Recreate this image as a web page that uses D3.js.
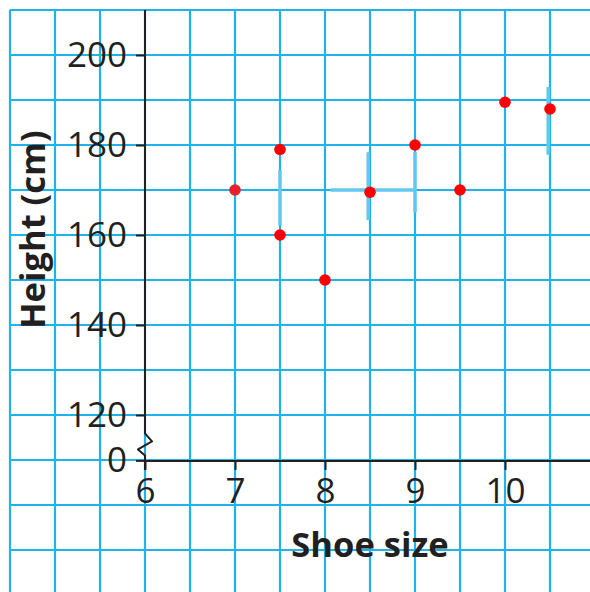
<!DOCTYPE html>
<html>
<head>
<meta charset="utf-8">
<script src="https://cdn.jsdelivr.net/npm/d3@7"></script>
<style>
  html, body { margin: 0; padding: 0; background: #ffffff; }
  svg { display: block; }
</style>
</head>
<body>
<svg id="chart" width="590" height="592"></svg>
<script>
// ---- data ----
const shoeSize = [7, 7.5, 7.5, 8, 8.5, 9, 9.5, 10, 10.5];
const heightCm = [170, 179, 160, 150, 169.5, 180, 170, 189.5, 188];
const xTickValues = [6, 7, 8, 9, 10];
const yTickValues = [120, 140, 160, 180, 200];
const xTitle = "Shoe size";
const yTitle = "Height (cm)";
// light-blue touch-up strokes seen on the scan (data units)
const touchX1 = [7.5, 8.06, 8.48, 9.0, 10.48];
const touchY1 = [174.4, 170, 178.4, 178.4, 192.9];
const touchX2 = [7.5, 9.0, 8.48, 9.0, 10.48];
const touchY2 = [162.2, 170, 163.3, 165, 177.8];

const W = 590, H = 592;
const svg = d3.select("#chart");

const x = d3.scaleLinear().domain([6, 10.5]).range([145, 550]);
const y = d3.scaleLinear().domain([120, 200]).range([415, 55]);
const yZero = y(109.8);          // position of the broken-axis "0"

const ink = "#231f20";
const gridColor = "#1fb3ec";

// ---- grid paper ----
const stepX = x(6.5) - x(6);
const stepY = y(120) - y(130);
const gx0 = x(6) - 3 * stepX;
const gy0 = y(200) - stepY;
const gridXs = d3.range(gx0, W + 1, stepX);
const gridYs = d3.range(gy0, H + 1, stepY);
const grid = svg.append("g");
grid.selectAll("line.v").data(gridXs).join("line")
  .attr("x1", d => d).attr("x2", d => d)
  .attr("y1", gy0).attr("y2", H)
  .attr("stroke", gridColor).attr("stroke-width", 2.2);
grid.selectAll("line.h").data(gridYs).join("line")
  .attr("x1", gx0).attr("x2", W)
  .attr("y1", d => d).attr("y2", d => d)
  .attr("stroke", gridColor).attr("stroke-width", 2.2);

// touch-up strokes
svg.append("g").selectAll("line").data(touchX1).join("line")
  .attr("x1", (d, i) => x(d)).attr("y1", (d, i) => y(touchY1[i]))
  .attr("x2", (d, i) => x(touchX2[i])).attr("y2", (d, i) => y(touchY2[i]))
  .attr("stroke", "#62c8f0").attr("stroke-width", 3.5);

// ---- axes ----
const fontTick = "'Open Sans', 'Noto Sans', sans-serif";
const tickSize = "35px";

// x axis
const xAxis = d3.axisBottom(x).tickValues(xTickValues).tickSize(9).tickPadding(8)
  .tickFormat(d3.format("d"));
const gx = svg.append("g").attr("transform", `translate(0,${yZero})`).call(xAxis);
gx.select(".domain").remove();
gx.append("line").attr("x1", x(6)).attr("x2", W).attr("y1", 0).attr("y2", 0)
  .attr("stroke", ink).attr("stroke-width", 2);
gx.selectAll(".tick line").attr("stroke", ink).attr("stroke-width", 2);
gx.selectAll(".tick text").attr("fill", ink)
  .style("font-family", fontTick).style("font-size", tickSize);

// y axis
const yAxis = d3.axisLeft(y).tickValues(yTickValues).tickSize(9).tickPadding(9)
  .tickFormat(d3.format("d"));
const gy = svg.append("g").attr("transform", `translate(${x(6)},0)`).call(yAxis);
gy.select(".domain").remove();
gy.selectAll(".tick line").attr("stroke", ink).attr("stroke-width", 2);
gy.selectAll(".tick text").attr("fill", ink)
  .style("font-family", fontTick).style("font-size", tickSize);

// y axis line with break
const ax = x(6);
const yTop = y(210);
const yb = y(115.9);
const breakPath = d3.path();
breakPath.moveTo(ax, yTop);
breakPath.lineTo(ax, yb);
breakPath.lineTo(ax + 7, yb + 8);
breakPath.lineTo(ax - 7, yb + 16);
breakPath.lineTo(ax, yb + 22);
breakPath.lineTo(ax, yZero + 9);
svg.append("path").attr("d", breakPath.toString())
  .attr("fill", "none").attr("stroke", ink).attr("stroke-width", 2)
  .attr("stroke-linejoin", "round");

// zero tick + label
svg.append("line").attr("x1", ax - 9).attr("x2", ax).attr("y1", yZero).attr("y2", yZero)
  .attr("stroke", ink).attr("stroke-width", 2);
svg.append("text").attr("x", ax - 18).attr("y", yZero).attr("dy", "0.32em")
  .attr("text-anchor", "end").attr("fill", ink)
  .style("font-family", fontTick).style("font-size", tickSize).text("0");

// ---- titles ----
svg.append("text")
  .attr("x", x(8.5)).attr("y", 557)
  .attr("text-anchor", "middle").attr("fill", ink)
  .style("font-family", fontTick).style("font-weight", "bold").style("font-size", "34.5px")
  .text(xTitle);
svg.append("text")
  .attr("transform", `translate(45,${y(161.2)}) rotate(-90)`)
  .attr("text-anchor", "middle").attr("fill", ink)
  .style("font-family", fontTick).style("font-weight", "bold").style("font-size", "34.5px")
  .text(yTitle);

// ---- points ----
svg.append("g").selectAll("circle").data(shoeSize).join("circle")
  .attr("cx", d => x(d))
  .attr("cy", (d, i) => y(heightCm[i]))
  .attr("r", 5.8)
  .attr("fill", (d, i) => i === 0 ? "#e8202a" : "#ff0000");
</script>
</body>
</html>
